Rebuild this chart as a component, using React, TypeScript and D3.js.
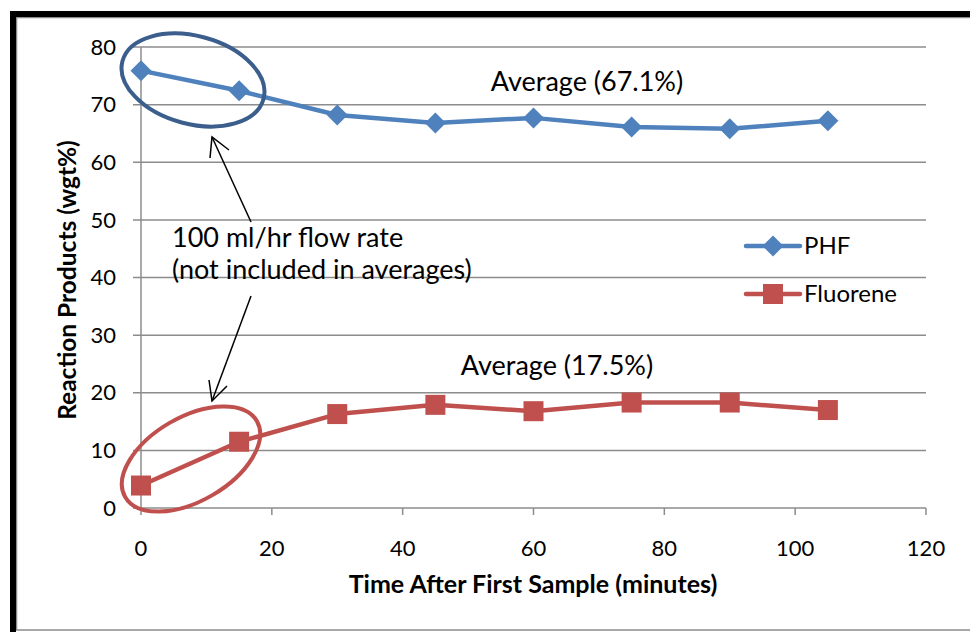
import React from "react";
import * as d3 from "d3";

const times = [0, 15, 30, 45, 60, 75, 90, 105];
const phf = [75.9, 72.4, 68.2, 66.8, 67.7, 66.1, 65.8, 67.2];
const fluorene = [3.9, 11.5, 16.3, 17.9, 16.8, 18.3, 18.3, 17.0];
const xTicks = [0, 20, 40, 60, 80, 100, 120];
const yTicks = [0, 10, 20, 30, 40, 50, 60, 70, 80];
const seriesNames = ["PHF", "Fluorene"];
const avgLabels = ["Average (67.1%)", "Average (17.5%)"];
const noteLines = ["100 ml/hr flow rate", "(not included in averages)"];

const W = 970, H = 632;
const FONT = "Lato, 'Open Sans', sans-serif";

export default function App() {
  const x = d3.scaleLinear().domain([0, 120]).range([141, 926]);
  const y = d3.scaleLinear().domain([0, 80]).range([508, 47]);
  const line = d3.line<number>().x((_, i) => x(times[i])).y((d) => y(d));
  const blue = "#4F81BD", red = "#C0504D";
  const diamond = (cx: number, cy: number, s = 10.5) =>
    `M${cx},${cy - s}L${cx + s},${cy}L${cx},${cy + s}L${cx - s},${cy}Z`;

  return (
    <svg width={W} height={H} style={{ position: "absolute", left: 0, top: 0, background: "#fff" }}>
      <rect x={0} y={0} width={W} height={H} fill="#fff" />
      {/* frame */}
      <rect x={16.5} y={17.5} width={W} height={612.5} fill="none" stroke="#8c8c8c" strokeWidth={1.5} />
      <line x1={10} y1={14} x2={W} y2={14} stroke="#000" strokeWidth={6} />
      <line x1={13} y1={11} x2={13} y2={H} stroke="#000" strokeWidth={6} />

      {/* gridlines */}
      {yTicks.map((t) => (
        <line key={"g" + t} x1={133} x2={926} y1={y(t)} y2={y(t)} stroke="#8c8c8c" strokeWidth={1.5} />
      ))}
      <line x1={x(0)} x2={x(0)} y1={y(80)} y2={y(0)} stroke="#8c8c8c" strokeWidth={1.5} />
      {xTicks.map((t) => (
        <line key={"xt" + t} x1={x(t)} x2={x(t)} y1={y(0)} y2={y(0) + 7} stroke="#8c8c8c" strokeWidth={1.5} />
      ))}

      {/* tick labels */}
      {yTicks.map((t) => (
        <text key={"yl" + t} x={116} y={y(t)} dy="0.35em" textAnchor="end" fontFamily={FONT} fontSize={22} fill="#000">
          {t}
        </text>
      ))}
      {xTicks.map((t) => (
        <text key={"xl" + t} x={x(t)} y={548} dy="0.35em" textAnchor="middle" fontFamily={FONT} fontSize={22} fill="#000">
          {t}
        </text>
      ))}

      {/* axis titles */}
      <text x={533} y={584} dy="0.35em" textAnchor="middle" fontFamily={FONT} fontSize={25} fontWeight="bold">
        Time After First Sample (minutes)
      </text>
      <text transform="translate(67,280) rotate(-90)" dy="0.35em" textAnchor="middle" fontFamily={FONT} fontSize={24.5} fontWeight="bold">
        Reaction Products (wgt%)
      </text>

      {/* series */}
      <path d={line(phf) || ""} fill="none" stroke={blue} strokeWidth={4.5} strokeLinejoin="round" />
      {phf.map((v, i) => (
        <path key={"p" + i} d={diamond(x(times[i]), y(v))} fill={blue} />
      ))}
      <path d={line(fluorene) || ""} fill="none" stroke={red} strokeWidth={4.5} strokeLinejoin="round" />
      {fluorene.map((v, i) => (
        <rect key={"f" + i} x={x(times[i]) - 10} y={y(v) - 10} width={20} height={20} fill={red} />
      ))}

      {/* ellipses */}
      <ellipse cx={193} cy={80} rx={73} ry={44} transform="rotate(15,193,80)" fill="none" stroke="#3B5E8C" strokeWidth={4} />
      <ellipse cx={191} cy={459} rx={76} ry={42} transform="rotate(-30,191,459)" fill="none" stroke={red} strokeWidth={4} />

      {/* arrows */}
      <g stroke="#000" strokeWidth={1.5} fill="none">
        <line x1={251} y1={222} x2={212} y2={137} />
        <polyline points="210,158 212,137 229,150" />
        <line x1={251} y1={296} x2={212} y2={401} />
        <polyline points="209,380 212,401 227,386" />
      </g>

      {/* annotation text */}
      {noteLines.map((s, i) => (
        <text key={"n" + i} x={172} y={238 + i * 32} dy="0.35em" fontFamily={FONT} fontSize={27}>
          {s}
        </text>
      ))}
      <text x={587} y={82} dy="0.35em" textAnchor="middle" fontFamily={FONT} fontSize={27}>{avgLabels[0]}</text>
      <text x={557} y={366} dy="0.35em" textAnchor="middle" fontFamily={FONT} fontSize={27}>{avgLabels[1]}</text>

      {/* legend */}
      <line x1={746} x2={800} y1={246} y2={246} stroke={blue} strokeWidth={4.5} strokeLinecap="round" />
      <path d={diamond(773, 246)} fill={blue} />
      <text x={804} y={246} dy="0.35em" fontFamily={FONT} fontSize={24}>{seriesNames[0]}</text>
      <line x1={746} x2={800} y1={294} y2={294} stroke={red} strokeWidth={4.5} strokeLinecap="round" />
      <rect x={763} y={284} width={20} height={20} fill={red} />
      <text x={804} y={294} dy="0.35em" fontFamily={FONT} fontSize={24}>{seriesNames[1]}</text>
    </svg>
  );
}
